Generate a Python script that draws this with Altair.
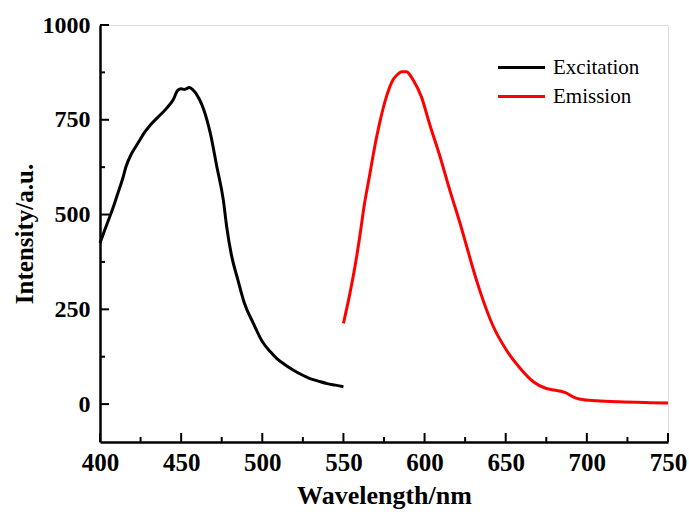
import altair as alt
import pandas as pd

# Excitation spectrum (wavelength nm, intensity a.u.)
exc_wl = [400, 403, 406, 409, 411, 414, 416, 419, 422, 425, 427, 431, 436, 441, 445,
          448, 450, 452, 455, 457, 461, 464, 468, 472, 476, 478, 481, 485, 489, 494.5,
          500, 505, 509, 514, 519, 524, 529, 535, 540, 545, 550]
exc_int = [425, 460, 494, 530, 556, 595, 626, 657, 679, 700, 714, 736, 758, 780, 802,
           828, 832, 830, 835, 830, 806, 776, 714, 626, 538, 470, 393, 327, 266, 213,
           165, 138, 120, 104, 90, 78, 68, 60, 54, 50, 46]

# Emission spectrum
emi_wl = [550, 554, 557, 560, 563, 566, 568.5, 572.5, 576.5, 580.5, 583, 586, 589, 591,
          593, 598, 603, 609.5, 615.5, 622, 626, 630, 634, 642, 650.5, 659, 667, 675,
          680, 684, 688, 691, 696, 706, 720, 737, 750]
emi_int = [213, 292, 360, 440, 529, 600, 661, 745, 811, 855, 868, 877, 877, 868,
           855, 811, 740, 653, 565, 475, 415, 355, 300, 208, 142, 94, 59, 41,
           37, 34, 28, 20, 13, 9, 6, 4, 3]

series_names = ["Excitation", "Emission"]
series_colors = ["#000000", "#ff0000"]

x_major = [400, 450, 500, 550, 600, 650, 700, 750]
x_minor = [425, 475, 525, 575, 625, 675, 725]
y_major = [0, 250, 500, 750, 1000]
y_minor = [125, 375, 625, 875]

df = pd.concat([
    pd.DataFrame({"wl": exc_wl, "val": exc_int, "series": series_names[0]}),
    pd.DataFrame({"wl": emi_wl, "val": emi_int, "series": series_names[1]}),
])

W, H = 568, 417
FONT = "Liberation Serif"

xscale = alt.Scale(domain=[400, 750], nice=False, zero=False)
yscale = alt.Scale(domain=[-100, 1000], nice=False, zero=False)

xaxis = alt.Axis(
    title="Wavelength/nm", values=x_major, format="d", ticks=False,
    domainWidth=2.5, domainColor="black", labelFont=FONT, labelFontSize=25,
    labelFontWeight="bold", labelColor="black", labelPadding=8,
    titleFont=FONT, titleFontSize=26, titleFontWeight="bold", titleColor="black",
    titlePadding=7, grid=False, labelFlush=False)
yaxis = alt.Axis(
    title="Intensity/a.u.", values=y_major, format="d", ticks=False,
    domainWidth=2.5, domainColor="black", labelFont=FONT, labelFontSize=24,
    labelFontWeight="bold", labelColor="black", labelPadding=10,
    titleFont=FONT, titleFontSize=25, titleFontWeight="bold", titleColor="black",
    titlePadding=5, grid=False, labelFlush=False)

lines = alt.Chart(df).mark_line(strokeWidth=3, interpolate="monotone").encode(
    x=alt.X("wl:Q", scale=xscale, axis=xaxis),
    y=alt.Y("val:Q", scale=yscale, axis=yaxis),
    color=alt.Color("series:N", sort=series_names,
                    scale=alt.Scale(domain=series_names, range=series_colors),
                    legend=alt.Legend(
                        title=None, orient="none", legendX=408, legendY=29,
                        symbolType="M-2,0H2", symbolSize=552, symbolStrokeWidth=3,
                        labelFont=FONT, labelFontSize=21, labelColor="black",
                        labelOffset=18, rowPadding=5, padding=0)),
    detail="series:N",
)

xt_major = alt.Chart(pd.DataFrame({"wl": x_major})).mark_rule(color="black", strokeWidth=2).encode(
    x=alt.X("wl:Q", scale=xscale, axis=xaxis), y=alt.value(H), y2=alt.value(H - 9))
xt_minor = alt.Chart(pd.DataFrame({"wl": x_minor})).mark_rule(color="black", strokeWidth=2).encode(
    x=alt.X("wl:Q", scale=xscale, axis=xaxis), y=alt.value(H), y2=alt.value(H - 5))
yt_major = alt.Chart(pd.DataFrame({"val": y_major})).mark_rule(color="black", strokeWidth=2).encode(
    y=alt.Y("val:Q", scale=yscale, axis=yaxis), x=alt.value(0), x2=alt.value(9))
yt_minor = alt.Chart(pd.DataFrame({"val": y_minor})).mark_rule(color="black", strokeWidth=2).encode(
    y=alt.Y("val:Q", scale=yscale, axis=yaxis), x=alt.value(0), x2=alt.value(5))

chart = alt.layer(lines, xt_major, xt_minor, yt_major, yt_minor).properties(
    width=W, height=H,
    autosize=alt.AutoSizeParams(type="none"),
    padding={"left": 100, "top": 25, "right": 21, "bottom": 70},
).configure_view(strokeWidth=0, stroke="transparent").configure(background="white")

chart.save("out.html", embed_options={"renderer": "svg", "actions": False})
